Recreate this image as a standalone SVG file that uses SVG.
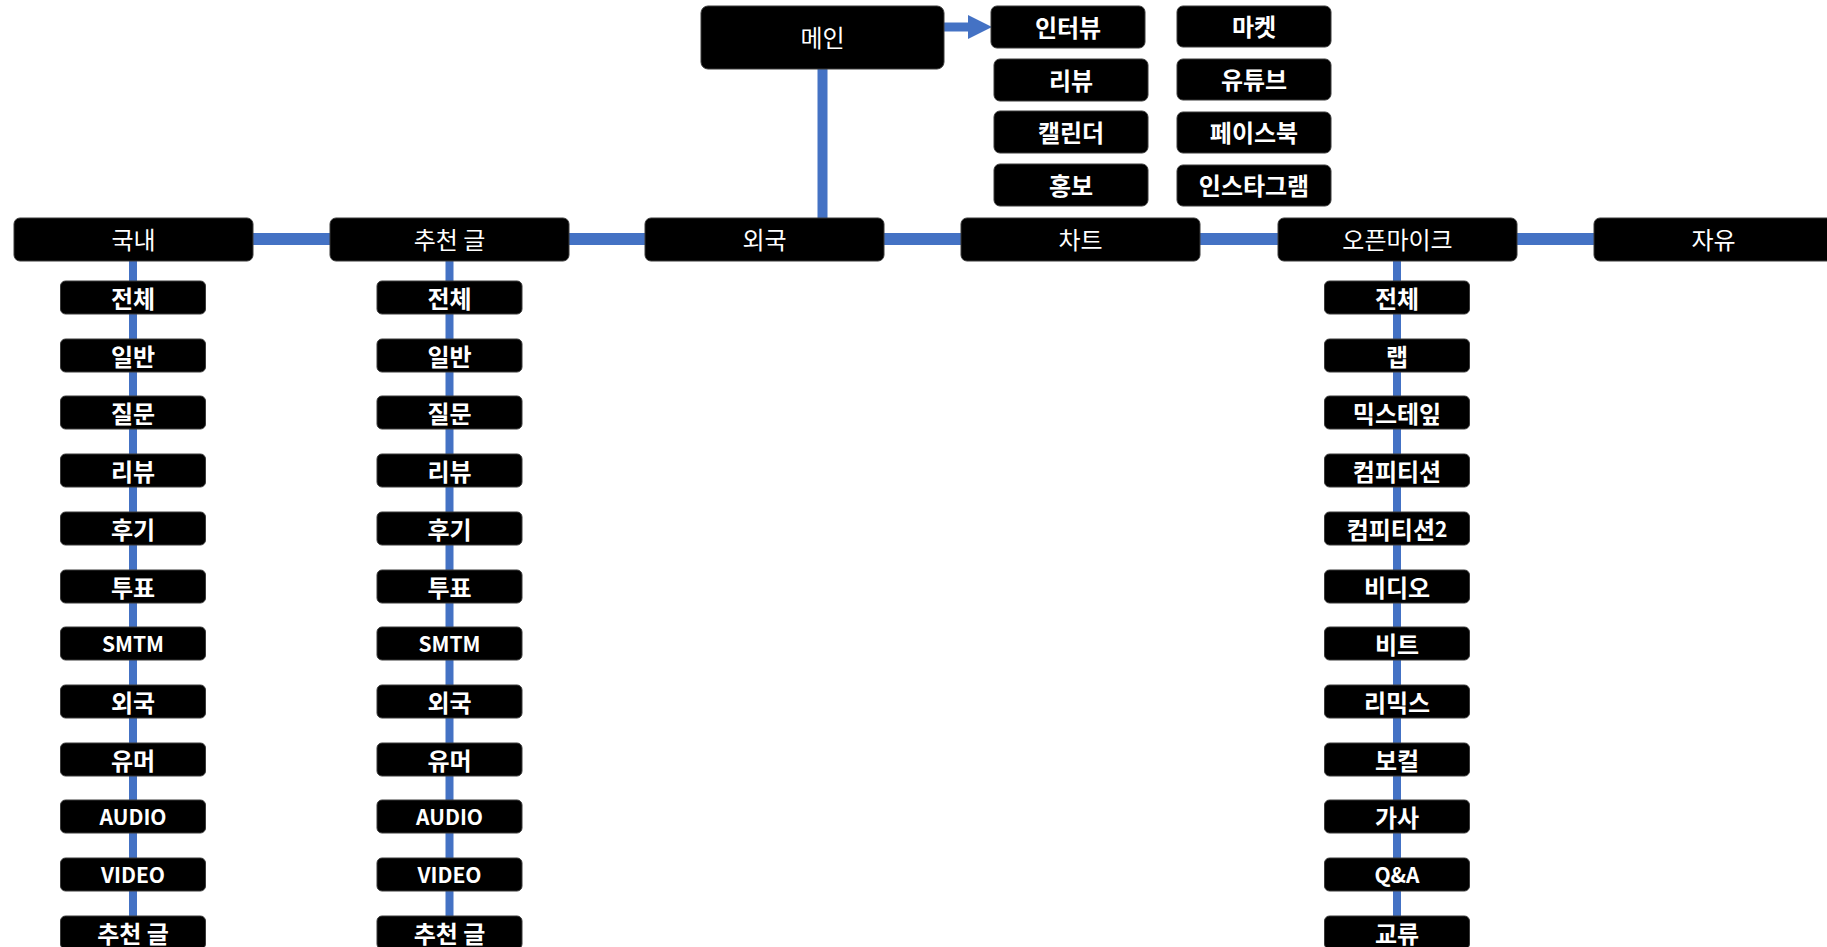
<svg xmlns="http://www.w3.org/2000/svg" width="1827" height="947" viewBox="0 0 1827 947">
<style>
.box{fill:#000;stroke:#3a3a3a;stroke-width:1}
.t{fill:#fff;font-family:"Noto Sans CJK KR","Noto Sans",sans-serif;font-size:24px;text-anchor:middle;dominant-baseline:central}
.b{font-weight:bold}
.l{font-size:21px}
.c{stroke:#4472C4;fill:none}
</style>
<defs>
<marker id="ah" markerUnits="userSpaceOnUse" markerWidth="24" markerHeight="24" refX="0" refY="12" orient="auto"><path d="M0,0 L24,12 L0,24 z" fill="#4472C4"/></marker>
</defs>
<rect width="1827" height="947" fill="#fff"/>
<g id="connectors">
<line class="c" x1="253" y1="239" x2="1594" y2="239" stroke-width="12"/>
<line class="c" x1="822.5" y1="69" x2="822.5" y2="218" stroke-width="10"/>
<line class="c" x1="944" y1="27" x2="968" y2="27" stroke-width="9" marker-end="url(#ah)"/>
<line class="c" x1="133" y1="261" x2="133" y2="947" stroke-width="8"/>
<line class="c" x1="449.5" y1="261" x2="449.5" y2="947" stroke-width="8"/>
<line class="c" x1="1397" y1="261" x2="1397" y2="947" stroke-width="8"/>
</g>
<g id="n-main"><rect class="box" x="701" y="6" width="243" height="63" rx="7"/><text class="t" x="822.5" y="36">메인</text></g>
<g id="n-interview"><rect class="box" x="991" y="6" width="154" height="42" rx="6"/><text class="t b" x="1068" y="26">인터뷰</text></g>
<g id="n-review-top"><rect class="box" x="994" y="59" width="154" height="42" rx="6"/><text class="t b" x="1071" y="79">리뷰</text></g>
<g id="n-calendar"><rect class="box" x="994" y="111" width="154" height="42" rx="6"/><text class="t b" x="1071" y="131">캘린더</text></g>
<g id="n-promo"><rect class="box" x="994" y="164" width="154" height="42" rx="6"/><text class="t b" x="1071" y="184">홍보</text></g>
<g id="n-market"><rect class="box" x="1177" y="6" width="154" height="41" rx="6"/><text class="t b" x="1254" y="25">마켓</text></g>
<g id="n-youtube"><rect class="box" x="1177" y="59" width="154" height="41" rx="6"/><text class="t b" x="1254" y="78">유튜브</text></g>
<g id="n-facebook"><rect class="box" x="1177" y="112" width="154" height="41" rx="6"/><text class="t b" x="1254" y="131">페이스북</text></g>
<g id="n-instagram"><rect class="box" x="1177" y="165" width="154" height="41" rx="6"/><text class="t b" x="1254" y="184">인스타그램</text></g>
<g id="n-domestic"><rect class="box" x="14" y="218" width="239" height="43" rx="6"/><text class="t" x="133.5" y="238.5">국내</text></g>
<g id="n-recommend"><rect class="box" x="330" y="218" width="239" height="43" rx="6"/><text class="t" x="449.5" y="238.5">추천 글</text></g>
<g id="n-foreign"><rect class="box" x="645" y="218" width="239" height="43" rx="6"/><text class="t" x="764.5" y="238.5">외국</text></g>
<g id="n-chart"><rect class="box" x="961" y="218" width="239" height="43" rx="6"/><text class="t" x="1080.5" y="238.5">차트</text></g>
<g id="n-openmic"><rect class="box" x="1278" y="218" width="239" height="43" rx="6"/><text class="t" x="1397.5" y="238.5">오픈마이크</text></g>
<g id="n-free"><rect class="box" x="1594" y="218" width="245" height="43" rx="6"/><text class="t" x="1713.5" y="238.5">자유</text></g>
<g id="c1">
<g id="c1-0"><rect class="box" x="60.5" y="281" width="145" height="33" rx="5"/><text class="t b" x="133" y="297">전체</text></g>
<g id="c1-1"><rect class="box" x="60.5" y="339" width="145" height="33" rx="5"/><text class="t b" x="133" y="355">일반</text></g>
<g id="c1-2"><rect class="box" x="60.5" y="396" width="145" height="33" rx="5"/><text class="t b" x="133" y="412">질문</text></g>
<g id="c1-3"><rect class="box" x="60.5" y="454" width="145" height="33" rx="5"/><text class="t b" x="133" y="470">리뷰</text></g>
<g id="c1-4"><rect class="box" x="60.5" y="512" width="145" height="33" rx="5"/><text class="t b" x="133" y="528">후기</text></g>
<g id="c1-5"><rect class="box" x="60.5" y="570" width="145" height="33" rx="5"/><text class="t b" x="133" y="586">투표</text></g>
<g id="c1-6"><rect class="box" x="60.5" y="627" width="145" height="33" rx="5"/><text class="t b l" x="133" y="643">SMTM</text></g>
<g id="c1-7"><rect class="box" x="60.5" y="685" width="145" height="33" rx="5"/><text class="t b" x="133" y="701">외국</text></g>
<g id="c1-8"><rect class="box" x="60.5" y="743" width="145" height="33" rx="5"/><text class="t b" x="133" y="759">유머</text></g>
<g id="c1-9"><rect class="box" x="60.5" y="800" width="145" height="33" rx="5"/><text class="t b l" x="133" y="816">AUDIO</text></g>
<g id="c1-10"><rect class="box" x="60.5" y="858" width="145" height="33" rx="5"/><text class="t b l" x="133" y="874">VIDEO</text></g>
<g id="c1-11"><rect class="box" x="60.5" y="916" width="145" height="33" rx="5"/><text class="t b" x="133" y="932">추천 글</text></g>
</g>
<g id="c2">
<g id="c2-0"><rect class="box" x="377" y="281" width="145" height="33" rx="5"/><text class="t b" x="449.5" y="297">전체</text></g>
<g id="c2-1"><rect class="box" x="377" y="339" width="145" height="33" rx="5"/><text class="t b" x="449.5" y="355">일반</text></g>
<g id="c2-2"><rect class="box" x="377" y="396" width="145" height="33" rx="5"/><text class="t b" x="449.5" y="412">질문</text></g>
<g id="c2-3"><rect class="box" x="377" y="454" width="145" height="33" rx="5"/><text class="t b" x="449.5" y="470">리뷰</text></g>
<g id="c2-4"><rect class="box" x="377" y="512" width="145" height="33" rx="5"/><text class="t b" x="449.5" y="528">후기</text></g>
<g id="c2-5"><rect class="box" x="377" y="570" width="145" height="33" rx="5"/><text class="t b" x="449.5" y="586">투표</text></g>
<g id="c2-6"><rect class="box" x="377" y="627" width="145" height="33" rx="5"/><text class="t b l" x="449.5" y="643">SMTM</text></g>
<g id="c2-7"><rect class="box" x="377" y="685" width="145" height="33" rx="5"/><text class="t b" x="449.5" y="701">외국</text></g>
<g id="c2-8"><rect class="box" x="377" y="743" width="145" height="33" rx="5"/><text class="t b" x="449.5" y="759">유머</text></g>
<g id="c2-9"><rect class="box" x="377" y="800" width="145" height="33" rx="5"/><text class="t b l" x="449.5" y="816">AUDIO</text></g>
<g id="c2-10"><rect class="box" x="377" y="858" width="145" height="33" rx="5"/><text class="t b l" x="449.5" y="874">VIDEO</text></g>
<g id="c2-11"><rect class="box" x="377" y="916" width="145" height="33" rx="5"/><text class="t b" x="449.5" y="932">추천 글</text></g>
</g>
<g id="c3">
<g id="c3-0"><rect class="box" x="1324.5" y="281" width="145" height="33" rx="5"/><text class="t b" x="1397" y="297">전체</text></g>
<g id="c3-1"><rect class="box" x="1324.5" y="339" width="145" height="33" rx="5"/><text class="t b" x="1397" y="355">랩</text></g>
<g id="c3-2"><rect class="box" x="1324.5" y="396" width="145" height="33" rx="5"/><text class="t b" x="1397" y="412">믹스테잎</text></g>
<g id="c3-3"><rect class="box" x="1324.5" y="454" width="145" height="33" rx="5"/><text class="t b" x="1397" y="470">컴피티션</text></g>
<g id="c3-4"><rect class="box" x="1324.5" y="512" width="145" height="33" rx="5"/><text class="t b" x="1397" y="528">컴피티션<tspan class="l">2</tspan></text></g>
<g id="c3-5"><rect class="box" x="1324.5" y="570" width="145" height="33" rx="5"/><text class="t b" x="1397" y="586">비디오</text></g>
<g id="c3-6"><rect class="box" x="1324.5" y="627" width="145" height="33" rx="5"/><text class="t b" x="1397" y="643">비트</text></g>
<g id="c3-7"><rect class="box" x="1324.5" y="685" width="145" height="33" rx="5"/><text class="t b" x="1397" y="701">리믹스</text></g>
<g id="c3-8"><rect class="box" x="1324.5" y="743" width="145" height="33" rx="5"/><text class="t b" x="1397" y="759">보컬</text></g>
<g id="c3-9"><rect class="box" x="1324.5" y="800" width="145" height="33" rx="5"/><text class="t b" x="1397" y="816">가사</text></g>
<g id="c3-10"><rect class="box" x="1324.5" y="858" width="145" height="33" rx="5"/><text class="t b l" x="1397" y="874">Q&amp;A</text></g>
<g id="c3-11"><rect class="box" x="1324.5" y="916" width="145" height="33" rx="5"/><text class="t b" x="1397" y="932">교류</text></g>
</g>
</svg>
